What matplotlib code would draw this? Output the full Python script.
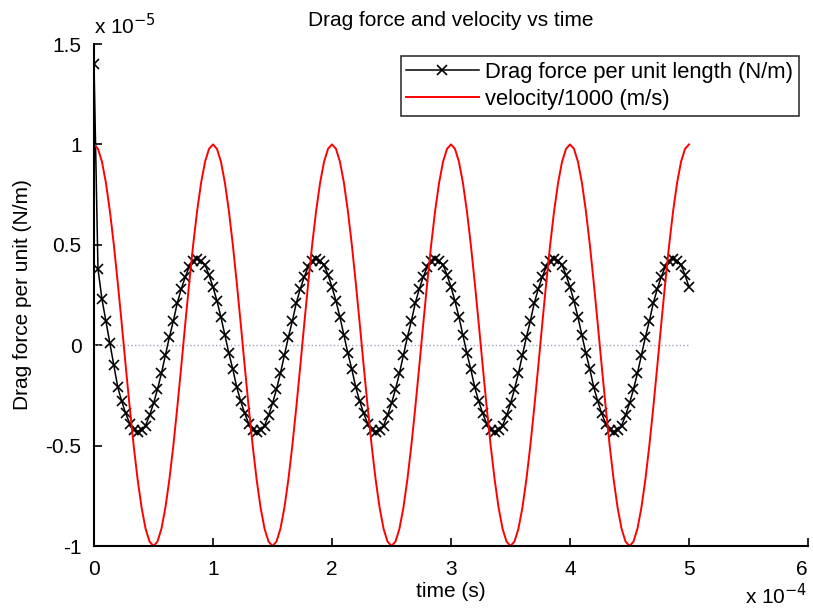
#!/usr/bin/env python

"""
Drag force per unit length and scaled velocity against time
"""

import numpy as np
import matplotlib
matplotlib.use("Agg")
import matplotlib.pyplot as plt

# ---------- Data ----------
# time axis in units of 1e-4 s, 30 samples per oscillation period
n_samples = 151
time_1e4 = np.arange(n_samples) / 30.0

# velocity/1000 in units of 1e-5 (m/s)
velocity_1e5 = [
    1.000, 0.978, 0.914, 0.809, 0.669, 0.500, 0.309, 0.105, -0.105, -0.309,
    -0.500, -0.669, -0.809, -0.914, -0.978, -1.000, -0.978, -0.914, -0.809, -0.669,
    -0.500, -0.309, -0.105, 0.105, 0.309, 0.500, 0.669, 0.809, 0.914, 0.978,
    1.000, 0.978, 0.914, 0.809, 0.669, 0.500, 0.309, 0.105, -0.105, -0.309,
    -0.500, -0.669, -0.809, -0.914, -0.978, -1.000, -0.978, -0.914, -0.809, -0.669,
    -0.500, -0.309, -0.105, 0.105, 0.309, 0.500, 0.669, 0.809, 0.914, 0.978,
    1.000, 0.978, 0.914, 0.809, 0.669, 0.500, 0.309, 0.105, -0.105, -0.309,
    -0.500, -0.669, -0.809, -0.914, -0.978, -1.000, -0.978, -0.914, -0.809, -0.669,
    -0.500, -0.309, -0.105, 0.105, 0.309, 0.500, 0.669, 0.809, 0.914, 0.978,
    1.000, 0.978, 0.914, 0.809, 0.669, 0.500, 0.309, 0.105, -0.105, -0.309,
    -0.500, -0.669, -0.809, -0.914, -0.978, -1.000, -0.978, -0.914, -0.809, -0.669,
    -0.500, -0.309, -0.105, 0.105, 0.309, 0.500, 0.669, 0.809, 0.914, 0.978,
    1.000, 0.978, 0.914, 0.809, 0.669, 0.500, 0.309, 0.105, -0.105, -0.309,
    -0.500, -0.669, -0.809, -0.914, -0.978, -1.000, -0.978, -0.914, -0.809, -0.669,
    -0.500, -0.309, -0.105, 0.105, 0.309, 0.500, 0.669, 0.809, 0.914, 0.978,
    1.000,
]

# drag force per unit length in units of 1e-5 N/m
drag_1e5 = [
    1.40, 0.38, 0.23, 0.12, 0.01, -0.10, -0.21, -0.28, -0.34, -0.39,
    -0.42, -0.43, -0.42, -0.40, -0.35, -0.29, -0.22, -0.14, -0.05, 0.04,
    0.12, 0.21, 0.28, 0.34, 0.39, 0.42, 0.43, 0.42, 0.40, 0.35,
    0.29, 0.22, 0.14, 0.05, -0.04, -0.12, -0.21, -0.28, -0.34, -0.39,
    -0.42, -0.43, -0.42, -0.40, -0.35, -0.29, -0.22, -0.14, -0.05, 0.04,
    0.12, 0.21, 0.28, 0.34, 0.39, 0.42, 0.43, 0.42, 0.40, 0.35,
    0.29, 0.22, 0.14, 0.05, -0.04, -0.12, -0.21, -0.28, -0.34, -0.39,
    -0.42, -0.43, -0.42, -0.40, -0.35, -0.29, -0.22, -0.14, -0.05, 0.04,
    0.12, 0.21, 0.28, 0.34, 0.39, 0.42, 0.43, 0.42, 0.40, 0.35,
    0.29, 0.22, 0.14, 0.05, -0.04, -0.12, -0.21, -0.28, -0.34, -0.39,
    -0.42, -0.43, -0.42, -0.40, -0.35, -0.29, -0.22, -0.14, -0.05, 0.04,
    0.12, 0.21, 0.28, 0.34, 0.39, 0.42, 0.43, 0.42, 0.40, 0.35,
    0.29, 0.22, 0.14, 0.05, -0.04, -0.12, -0.21, -0.28, -0.34, -0.39,
    -0.42, -0.43, -0.42, -0.40, -0.35, -0.29, -0.22, -0.14, -0.05, 0.04,
    0.12, 0.21, 0.28, 0.34, 0.39, 0.42, 0.43, 0.42, 0.40, 0.35,
    0.29,
]

# zero reference line
zero_x = [0, 5]
zero_y = [0, 0]

x_ticks = [0, 1, 2, 3, 4, 5, 6]
y_ticks = [-1, -0.5, 0, 0.5, 1, 1.5]
y_tick_labels = ["-1", "-0.5", "0", "0.5", "1", "1.5"]


def main():
    plt.rcParams["font.family"] = ["Liberation Sans", "DejaVu Sans"]
    fs = 15

    fig = plt.figure(figsize=(8.13, 6.13), dpi=100)
    # axes box in pixels: left 94, right 808, top 44, bottom 546
    ax = fig.add_axes([94 / 813, 67 / 613, 714 / 813, 502 / 613])

    ax.plot(zero_x, zero_y, linestyle=":", color="#a0a8b8", linewidth=1.0)
    ax.plot(time_1e4, drag_1e5, color="black", linewidth=1.1, marker="x",
            markersize=7, markeredgewidth=1.2,
            label="Drag force per unit length (N/m)")
    ax.plot(time_1e4, velocity_1e5, color="red", linewidth=1.4,
            label="velocity/1000 (m/s)")

    ax.set_xlim(0, 6)
    ax.set_ylim(-1, 1.5)
    ax.set_xticks(x_ticks)
    ax.set_yticks(y_ticks)
    ax.set_yticklabels(y_tick_labels)

    ax.spines["top"].set_visible(False)
    ax.spines["right"].set_visible(False)
    ax.spines["left"].set_linewidth(1.5)
    ax.spines["bottom"].set_linewidth(1.5)
    ax.tick_params(direction="in", length=6, width=1.2, labelsize=fs)
    ax.tick_params(axis="x", pad=10)
    ax.tick_params(axis="y", pad=9)
    # keep the last x tick label inside the figure
    ax.get_xticklabels()[-1].set_horizontalalignment("right")

    ax.set_title("Drag force and velocity vs time", fontsize=fs, pad=13)
    ax.set_xlabel("time (s)", fontsize=fs, labelpad=2)
    ax.set_ylabel("Drag force per unit (N/m)", fontsize=fs, labelpad=10)

    # exponent labels for the scaled axes
    ax.text(0.0, 1.012, r"x 10$^{-5}$", transform=ax.transAxes,
            ha="left", va="bottom", fontsize=fs)
    fig.text(0.993, 0.008, r"x 10$^{-4}$", ha="right", va="bottom",
             fontsize=fs)

    leg = ax.legend(loc="upper right", bbox_to_anchor=(0.987, 0.976),
                    frameon=True, fancybox=False, edgecolor="black",
                    fontsize=15.8, handlelength=3.3, borderpad=0.25,
                    labelspacing=0.3, handletextpad=0.3, borderaxespad=0)
    leg.get_frame().set_linewidth(1.2)

    fig.savefig("out.png", dpi=100)


if __name__ == "__main__":
    main()
